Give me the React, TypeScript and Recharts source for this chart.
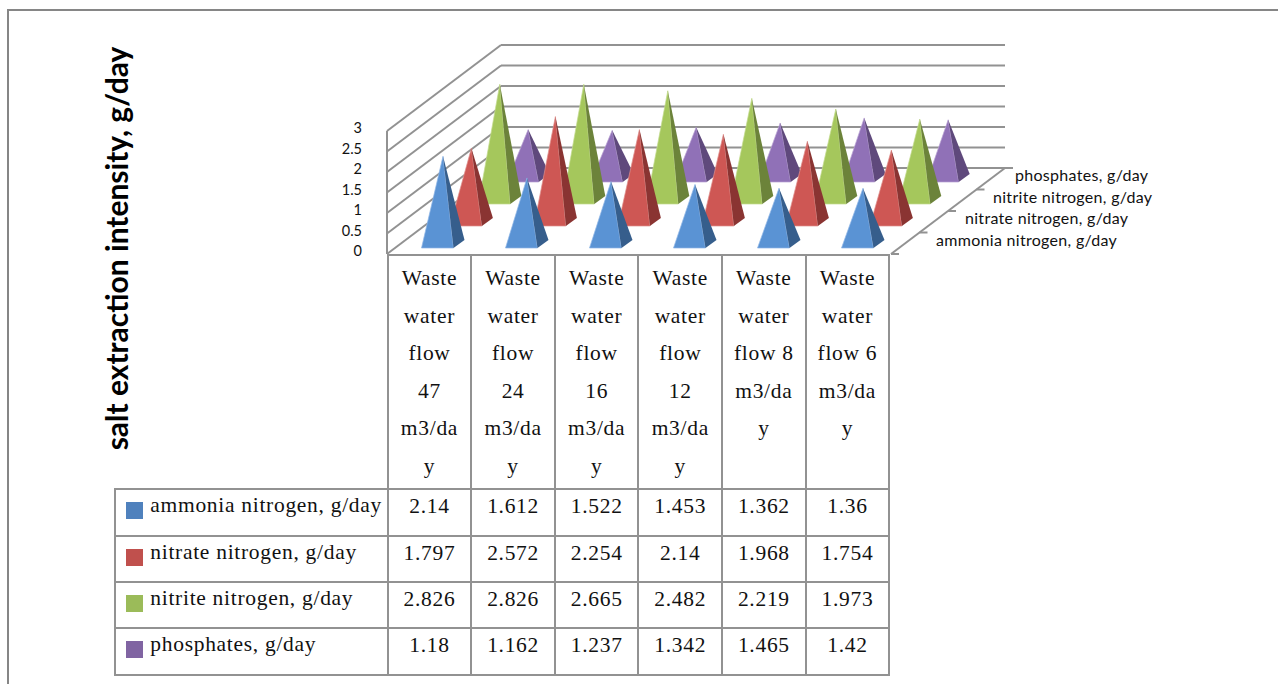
import React from "react";
import { BarChart, Bar, XAxis, YAxis } from "recharts";

const categories = ["47", "24", "16", "12", "8", "6"];
const headerLines = [
  ["Waste", "water", "flow", "47", "m3/da", "y"],
  ["Waste", "water", "flow", "24", "m3/da", "y"],
  ["Waste", "water", "flow", "16", "m3/da", "y"],
  ["Waste", "water", "flow", "12", "m3/da", "y"],
  ["Waste", "water", "flow 8", "m3/da", "y"],
  ["Waste", "water", "flow 6", "m3/da", "y"],
];
const seriesNames = ["ammonia nitrogen, g/day", "nitrate nitrogen, g/day", "nitrite nitrogen, g/day", "phosphates, g/day"];
const ammonia = [2.14, 1.612, 1.522, 1.453, 1.362, 1.36];
const nitrate = [1.797, 2.572, 2.254, 2.14, 1.968, 1.754];
const nitrite = [2.826, 2.826, 2.665, 2.482, 2.219, 1.973];
const phosphates = [1.18, 1.162, 1.237, 1.342, 1.465, 1.42];
const yTicks = [0, 0.5, 1, 1.5, 2, 2.5, 3];

const values = [ammonia, nitrate, nitrite, phosphates];
const chartData = categories.map((category, i) => ({
  category,
  s0: ammonia[i],
  s1: nitrate[i],
  s2: nitrite[i],
  s3: phosphates[i],
}));

const FRONT = ["#5A93D4", "#CE5754", "#A5C75C", "#9071B7"];
const SIDE = ["#365E8C", "#8A3432", "#6C833A", "#5F497C"];
const EDGE = ["#8FB6E6", "#E08F8C", "#C3DB8E", "#B7A0D2"];
const SWATCH = ["#4F81BD", "#C0504D", "#9BBB59", "#8064A2"];
const LINE = "#929292";
const SANS = "Lato, 'Open Sans', sans-serif";
const SERIF = "'Liberation Serif', serif";

// oblique projection of the 3D box
const LEFT = 387;
const RIGHT = 891;
const TOP = 131;
const BOTTOM = 254;
const DEPTH_X = 114;
const DEPTH_Y = -86;

function Pyramid(props: any) {
  const { x, width, height, series } = props;
  const cx = x + width / 2 + 14 + 28.4 * series;
  const cy = BOTTOM - 10 - 22 * series;
  const apexY = cy - height;
  const fl = [cx - width / 2 - 5.5, cy + 4];
  const fr = [cx + width / 2 - 5.5, cy + 4];
  const br = [cx + width / 2 + 5.5, cy - 4];
  return (
    <g>
      <polygon points={`${fl} ${fr} ${cx},${apexY}`} fill={FRONT[series]} stroke={EDGE[series]} strokeWidth={0.7} />
      <polygon points={`${fr} ${br} ${cx},${apexY}`} fill={SIDE[series]} />
    </g>
  );
}

function WallTick(props: any) {
  const { y, payload } = props;
  return (
    <g>
      <line x1={LEFT} y1={y} x2={LEFT + DEPTH_X} y2={y + DEPTH_Y} stroke={LINE} strokeWidth={2} />
      <line x1={LEFT + DEPTH_X} y1={y + DEPTH_Y} x2={RIGHT + DEPTH_X} y2={y + DEPTH_Y} stroke={LINE} strokeWidth={2} />
      <text x={362} y={y - 3} dy="0.35em" textAnchor="end" fontFamily={SANS} fontSize={14.5} fill="#111">
        {payload.value}
      </text>
    </g>
  );
}

function Frame3D() {
  const depthLabelX = [936, 965, 993, 1015];
  return (
    <g>
      <line x1={LEFT} y1={TOP} x2={LEFT} y2={BOTTOM} stroke={LINE} strokeWidth={2} />
      <line x1={RIGHT} y1={BOTTOM} x2={RIGHT + DEPTH_X} y2={BOTTOM + DEPTH_Y} stroke={LINE} strokeWidth={2} />
      {[0, 1, 2, 3, 4].map((i) => {
        const tx = RIGHT + (DEPTH_X * i) / 4;
        const ty = BOTTOM + (DEPTH_Y * i) / 4;
        return <line key={i} x1={tx} y1={ty} x2={tx + 8} y2={ty} stroke={LINE} strokeWidth={2} />;
      })}
      {seriesNames.map((name, i) => (
        <text
          key={name}
          x={depthLabelX[i]}
          y={240.5 - 21.7 * i}
          dy="0.35em"
          fontFamily={SANS}
          fontSize={16}
          letterSpacing={0.3}
          fill="#111"
        >
          {name}
        </text>
      ))}
      <text
        transform="translate(128 248.5) rotate(-90)"
        textAnchor="middle"
        fontFamily={SANS}
        fontWeight={700}
        fontSize={30}
        fill="#000"
      >
        salt extraction intensity, g/day
      </text>
    </g>
  );
}

const cellBorder = `2px solid ${LINE}`;

function DataTable() {
  const cell: React.CSSProperties = {
    border: cellBorder,
    textAlign: "center",
    verticalAlign: "top",
    padding: "2px 0 0",
    lineHeight: "28px",
    height: 46.4,
    boxSizing: "border-box",
  };
  return (
    <table
      style={{
        position: "absolute",
        left: 114.3,
        top: 254,
        borderCollapse: "collapse",
        tableLayout: "fixed",
        width: 774,
        fontFamily: SERIF,
        fontSize: 21.5,
        letterSpacing: 0.7,
        color: "#111",
      }}
    >
      <colgroup>
        <col style={{ width: 272.4 }} />
        {categories.map((c) => (
          <col key={c} style={{ width: 83.6 }} />
        ))}
      </colgroup>
      <tbody>
        <tr>
          <td style={{ border: "none", borderBottom: cellBorder }} />
          {headerLines.map((lines, i) => (
            <td key={i} style={{ ...cell, lineHeight: "37.6px", height: 234.3, padding: "4px 0 0" }}>
              {lines.map((l, j) => (
                <div key={j}>{l}</div>
              ))}
            </td>
          ))}
        </tr>
        {seriesNames.map((name, s) => (
          <tr key={name}>
            <td style={{ ...cell, textAlign: "left", whiteSpace: "nowrap", padding: "1px 0 0" }}>
              <span
                style={{
                  display: "inline-block",
                  width: 17,
                  height: 17,
                  margin: "0 7px 0 10px",
                  background: SWATCH[s],
                  verticalAlign: -7,
                }}
              />
              {name}
            </td>
            {values[s].map((v, i) => (
              <td key={i} style={cell}>
                {v}
              </td>
            ))}
          </tr>
        ))}
      </tbody>
    </table>
  );
}

export default function App() {
  const layer: React.CSSProperties = { position: "absolute", left: 0, top: 0 };
  return (
    <div style={{ position: "absolute", left: 0, top: 0, width: 1278, height: 684, overflow: "hidden", background: "#fff" }}>
      <div
        style={{
          position: "absolute",
          left: 7,
          top: 9,
          right: -5,
          bottom: -5,
          borderTop: "2px solid #868686",
          borderLeft: "2px solid #868686",
        }}
      />
      {/* walls and labels sit in their own chart so the pyramids cover them */}
      <div style={layer}>
        <BarChart
          width={1278}
          height={684}
          data={chartData}
          margin={{ top: TOP, bottom: 684 - BOTTOM, left: LEFT - 40, right: 1278 - RIGHT }}
        >
          <XAxis dataKey="category" hide />
          <YAxis
            width={40}
            domain={[0, 3]}
            ticks={yTicks}
            interval={0}
            axisLine={false}
            tickLine={false}
            tick={<WallTick />}
          />
          <Bar dataKey="s0" fill="none" isAnimationActive={false} />
          <Frame3D />
        </BarChart>
      </div>
      <div style={layer}>
        <BarChart
          width={1278}
          height={684}
          data={chartData}
          margin={{ top: TOP, bottom: 684 - BOTTOM, left: LEFT, right: 1278 - RIGHT }}
        >
          <YAxis hide domain={[0, 3]} ticks={yTicks} />
          {[3, 2, 1, 0].map((s) => (
            <XAxis key={s} xAxisId={`x${s}`} dataKey="category" hide />
          ))}
          {[3, 2, 1, 0].map((s) => (
            <Bar
              key={s}
              xAxisId={`x${s}`}
              dataKey={`s${s}`}
              barSize={32}
              isAnimationActive={false}
              shape={(p: any) => <Pyramid {...p} series={s} />}
            />
          ))}
        </BarChart>
      </div>
      <DataTable />
    </div>
  );
}
